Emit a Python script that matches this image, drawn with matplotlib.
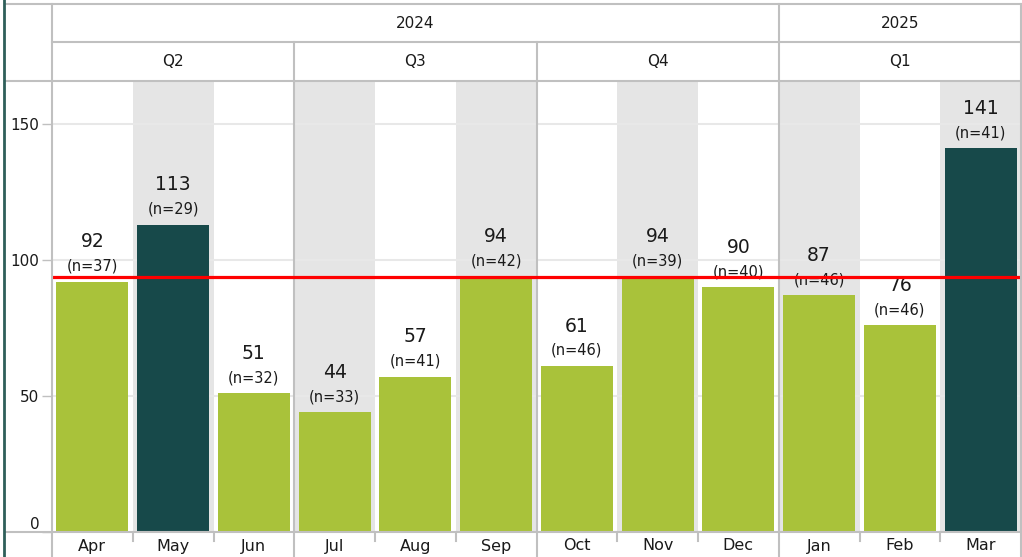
import matplotlib.pyplot as plt
from matplotlib.lines import Line2D

plt.rcParams['font.family'] = ['DejaVu Sans']

months = ["Apr", "May", "Jun", "Jul", "Aug", "Sep", "Oct", "Nov", "Dec", "Jan", "Feb", "Mar"]
values = [92, 113, 51, 44, 57, 94, 61, 94, 90, 87, 76, 141]
counts = [37, 29, 32, 33, 41, 42, 46, 39, 40, 46, 46, 41]
quarters = ["Q2", "Q3", "Q4", "Q1"]
years = ["2024", "2025"]
reference = 93.9

green = "#a9c23a"
teal = "#17494a"
band = "#e5e5e5"
border = "#c0c0c0"
text_col = "#1a1a1a"

W, H = 1022, 557
fig = plt.figure(figsize=(W / 100, H / 100), dpi=100)


def fx(px):
    return px / W


def fy(py):
    return 1 - py / H


# plot area: x 52..1021, y 81..532 (pixels from top)
ax = fig.add_axes([fx(52), fy(532), fx(1021 - 52), (532 - 81) / H])
ymax = (532 - 81) / 2.72
ax.set_xlim(-0.5, len(months) - 0.5)
ax.set_ylim(0, ymax)

for i in range(1, len(months), 2):
    ax.axvspan(i - 0.5, i + 0.5, color=band, lw=0, zorder=0)
for y in [50, 100, 150]:
    ax.axhline(y, color="#e8e8e8", lw=1.5, zorder=0.5)

colors = [teal if v > 100 else green for v in values]
ax.bar(range(len(months)), values, width=0.89, color=colors, zorder=2)

for i, (v, n) in enumerate(zip(values, counts)):
    ax.annotate(str(v), (i, v), xytext=(0, 28.8), textcoords="offset points",
                ha="center", va="center", fontsize=13.5, color=text_col, zorder=4)
    ax.annotate(f"(n={n})", (i, v), xytext=(0, 11.3), textcoords="offset points",
                ha="center", va="center", fontsize=10.5, color=text_col, zorder=4)

ax.axhline(reference, color="#ff0000", lw=2.3, zorder=5)

# quarter separators inside the plot
for x in [2.5, 5.5, 8.5]:
    ax.axvline(x, color=border, lw=1.5, zorder=3)

# y axis
ax.set_yticks([0, 50, 100, 150])
ax.set_yticklabels(["0", "50", "100", "150"])
ax.tick_params(axis="y", length=7, width=1, color=border, pad=2,
               labelsize=11, labelcolor=text_col)
ax.yaxis.get_major_ticks()[0].label1.set_verticalalignment("bottom")
ax.set_xticks([])
for s in ax.spines.values():
    s.set_visible(False)

# month labels below axis
for i, m in enumerate(months):
    ax.text(i, -14 / 451, m, transform=ax.get_xaxis_transform(), ha="center",
            va="center", fontsize=11.5, color=text_col, clip_on=False)

# header rows: y 4..81, split at 42
hax = fig.add_axes([fx(52), fy(81), fx(1021 - 52), 77 / H])
hax.set_xlim(-0.5, len(months) - 0.5)
hax.set_ylim(0, 77)
hax.axis("off")
qcenters = [1, 4, 7, 10]
for q, c in zip(quarters, qcenters):
    hax.text(c, (81 - 61.5), q, ha="center", va="center", fontsize=11, color=text_col)
hax.text(4, 81 - 23, years[0], ha="center", va="center", fontsize=11, color=text_col)
hax.text(10, 81 - 23, years[1], ha="center", va="center", fontsize=11, color=text_col)


def hline(y, x0, x1):
    fig.add_artist(Line2D([fx(x0), fx(x1)], [fy(y), fy(y)], color=border, lw=1.5))


def vline(x, y0, y1, color=border, lw=1.5):
    fig.add_artist(Line2D([fx(x), fx(x)], [fy(y0), fy(y1)], color=color, lw=lw))


hline(4, 5, 1021)
hline(42, 52, 1021)
hline(81, 5, 1021)
hline(532, 5, 1021)
vline(52, 4, 557)
vline(1021, 4, 557)
# quarter / year separators in header and below the axis
col_w = (1021 - 52) / len(months)
for k in [3, 6]:
    x = 52 + k * col_w
    vline(x, 42, 81)
    vline(x, 532, 557)
x_year = 52 + 9 * col_w
vline(x_year, 4, 81)
vline(x_year, 532, 557)
# small month ticks below axis
for k in range(1, len(months)):
    if k not in (3, 6, 9):
        vline(52 + k * col_w, 532, 541)

# window edge on the left
vline(4, 0, 557, color="#2f5f5a", lw=2)

fig.savefig("out.png", dpi=100)
